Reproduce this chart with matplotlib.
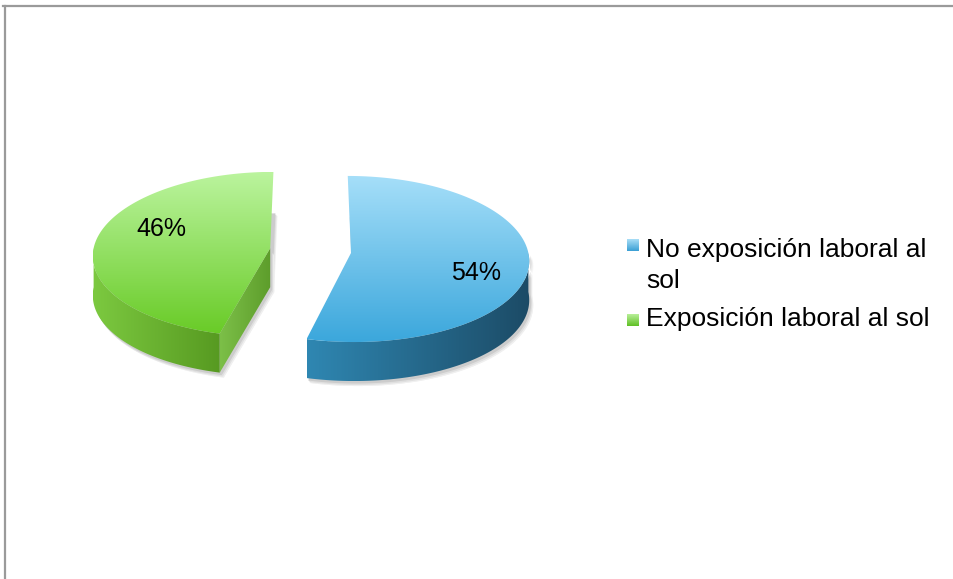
import textwrap
import numpy as np
import matplotlib
matplotlib.use("Agg")
import matplotlib.pyplot as plt
from matplotlib.patches import Polygon
from matplotlib.colors import LinearSegmentedColormap
from matplotlib.lines import Line2D

# ---- data ----
categories = ["No exposición laboral al sol", "Exposición laboral al sol"]
values = [54, 46]
value_labels = ["54%", "46%"]

# ---- styling ----
FONT = "Liberation Sans"
top_colors = [("#a6dff9", "#3ba7dc"), ("#bbf49e", "#69cb27")]
wall_colors = [("#2f87b2", "#1c4b66"), ("#7cc940", "#579a21")]
cut_colors = [("#2f87b2", "#1f5a7a"), ("#7cbf48", "#5d9d2b")]
legend_colors = [("#a9def7", "#3a9fd4"), ("#b9f09a", "#5fbf24")]

W, H = 954, 579
fig = plt.figure(figsize=(W / 100, H / 100), dpi=100)
ax = fig.add_axes([0, 0, 1, 1])

# pie geometry (screen pixel units, y grows downward)
CX, CY = 310.5, 250.6      # projected centre of the pie plane
RX, RY = 177.0, 82.7       # horizontal / vertical radii of the top ellipse
PERSP_Y = 6.0              # front of the disc drawn a little lower than the back
PERSP_X = 0.08             # front of the disc drawn a little wider than the back
DEPTH = 39.0
EXPLODE = 0.23


def proj(u, v, z=0.0):
    """Plane coordinates (u right, v toward viewer, unit radius) -> screen pixels."""
    x = CX + RX * u * (1 + PERSP_X * v)
    y = CY + RY * v + PERSP_Y * v * v + z
    return np.array([x, y])


def plane(theta, cu, cv, r=1.0):
    t = np.radians(theta)
    return cu + r * np.sin(t), cv - r * np.cos(t)


def pt(theta, cu, cv, z=0.0, r=1.0):
    return proj(*plane(theta, cu, cv, r), z)


def arc(a0, a1, cu, cv, z=0.0, n=120):
    return np.array([pt(t, cu, cv, z) for t in np.linspace(a0, a1, n)])


def gradient_fill(xy, c0, c1, vertical=True, zorder=2):
    poly = Polygon(xy, closed=True, facecolor="none", edgecolor="none")
    ax.add_patch(poly)
    x0, y0 = xy.min(0)
    x1, y1 = xy.max(0)
    ramp = np.linspace(0, 1, 256)
    img = ramp[:, None] if vertical else ramp[None, :]
    cmap = LinearSegmentedColormap.from_list("ramp", [c0, c1])
    im = ax.imshow(img, cmap=cmap, extent=(x0, x1, y1, y0), origin="upper",
                   aspect="auto", zorder=zorder, interpolation="bilinear")
    im.set_clip_path(poly)


def shadow(xy, zorder=1):
    for off, col in [((4, 5), "#f0f0f0"), ((3, 4), "#e0e0e0"), ((2, 2.5), "#cccccc")]:
        ax.add_patch(Polygon(xy + np.array(off), closed=True, facecolor=col,
                             edgecolor="none", zorder=zorder))


total = float(sum(values))
slices = []
start = 0.0
for v in values:
    a0, a1 = start, start + 360.0 * v / total
    start = a1
    mid = 0.5 * (a0 + a1)
    cu, cv = plane(mid, 0.0, 0.0, EXPLODE)
    slices.append((a0, a1, mid, cu, cv))

shapes = []
for i, (a0, a1, mid, cu, cv) in enumerate(slices):
    c = proj(cu, cv)
    parts = {}
    parts["top"] = np.vstack([c, arc(a0, a1, cu, cv), c])
    lo, hi = max(a0, 90.0), min(a1, 270.0)
    if lo < hi:
        parts["wall"] = np.vstack([arc(lo, hi, cu, cv), arc(hi, lo, cu, cv, DEPTH)])
    cuts = []
    if np.sin(np.radians(a0)) < -1e-9:
        cuts.append(a0)
    if np.sin(np.radians(a1)) > 1e-9:
        cuts.append(a1)
    parts["cuts"] = [np.array([c, pt(a, cu, cv), pt(a, cu, cv, DEPTH), c + [0, DEPTH]])
                     for a in cuts]
    shapes.append(parts)

# soft shadows beneath the slices
for parts in shapes:
    shadow(parts["top"] + np.array([0, DEPTH]))
    if "wall" in parts:
        shadow(parts["wall"])
    for q in parts["cuts"]:
        shadow(q)

# slice bodies
for i, parts in enumerate(shapes):
    for q in parts["cuts"]:
        gradient_fill(q, *cut_colors[i], vertical=False, zorder=3)
    if "wall" in parts:
        gradient_fill(parts["wall"], *wall_colors[i], vertical=False, zorder=3)
    gradient_fill(parts["top"], *top_colors[i], vertical=True, zorder=4)

# percentage labels
for i, (a0, a1, mid, cu, cv) in enumerate(slices):
    lx, ly = pt(mid + 12.5, cu, cv, r=0.70)
    ax.annotate(value_labels[i], (lx, ly), xytext=(3.5, 0), textcoords="offset points",
                ha="center", va="center", fontsize=18, family=FONT,
                color="black", zorder=10)

# legend
LEG_X, SQ = 627.0, 12.0
TXT_X = 646.0
LINE = 31.0
GAP = 7.0
baseline = 257.3
for i, name in enumerate(categories):
    lines = textwrap.fill(name, 25).split("\n")
    sq_cy = baseline - 6 - 6 * (len(lines) - 1)
    sq = np.array([[LEG_X, sq_cy - SQ / 2], [LEG_X + SQ, sq_cy - SQ / 2],
                   [LEG_X + SQ, sq_cy + SQ / 2], [LEG_X, sq_cy + SQ / 2]])
    gradient_fill(sq, *legend_colors[i], vertical=True, zorder=5)
    for k, line in enumerate(lines):
        ax.text(TXT_X, baseline + k * LINE, line, ha="left", va="baseline",
                fontsize=19, family=FONT, color="black", zorder=10)
    baseline += len(lines) * LINE + GAP

ax.set_xlim(0, W)
ax.set_ylim(H, 0)
ax.axis("off")

# chart frame edges
fig.add_artist(Line2D([3 / W, 1], [1 - 6 / H, 1 - 6 / H], transform=fig.transFigure,
                      color="#9a9a9a", lw=1.6))
fig.add_artist(Line2D([5 / W, 5 / W], [1 - 6 / H, 0], transform=fig.transFigure,
                      color="#9a9a9a", lw=1.6))

fig.savefig("out.png", dpi=100, facecolor="white")
